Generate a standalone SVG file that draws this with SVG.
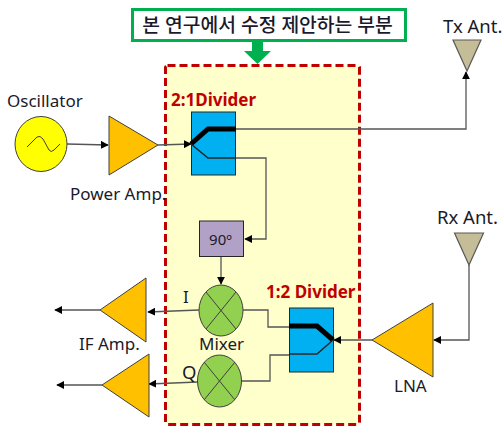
<svg xmlns="http://www.w3.org/2000/svg" width="502" height="427" viewBox="0 0 502 427">
<style>
text{font-family:"Noto Sans","Noto Sans CJK KR",sans-serif;fill:#1a1a2a;font-size:17px}
.red{fill:#c00000;font-weight:bold}
.big{font-size:18.500px}
.amp{fill:#ffc000;stroke:#404040;stroke-width:1}
.ant{fill:#c4bd97;stroke:#595959;stroke-width:1.200}
.div{fill:#00b0f0;stroke:#262626;stroke-width:1}
.mix{fill:#92d050;stroke:#404040;stroke-width:1}
.x{stroke:#404040;stroke-width:1;fill:none}
.c{fill:none;stroke:#555;stroke-width:1.300}
.th{fill:none;stroke:#000;stroke-width:5}
.tn{fill:none;stroke:#262626;stroke-width:1.500}
</style>
<defs>
<marker id="a" viewBox="0 0 10 10" refX="9" refY="5" markerWidth="8" markerHeight="8" markerUnits="userSpaceOnUse" orient="auto"><path d="M0 0L10 5L0 10Z" fill="#000"/></marker>
</defs>
<g id="highlight-region"><rect x="165.500" y="65.500" width="194" height="359" rx="2" fill="#ffffcc" stroke="#c00000" stroke-width="3" stroke-dasharray="8 4"/></g>
<g id="banner"><rect x="132.500" y="9.500" width="273" height="31" fill="#fff" stroke="#00b050" stroke-width="3"/>
<path d="M252 41H263V51H271L257.500 64L244 51H252Z" fill="#00b050"/>
<text x="267.500" y="32" text-anchor="middle" font-weight="500" style="font-size:19.300px">본 연구에서 수정 제안하는 부분</text></g>
<g id="connectors">
<path class="c" d="M67 144L108 145" marker-end="url(#a)"/>
<path class="c" d="M158 145L191 144" marker-end="url(#a)"/>
<path class="c" d="M236 129H466V72" marker-end="url(#a)"/>
<path class="c" d="M236 158H266V239H245" marker-end="url(#a)"/>
<path class="c" d="M221 256V284" marker-end="url(#a)"/>
<path class="c" d="M199 310L148 312" marker-end="url(#a)"/>
<path class="c" d="M198 382L149 384" marker-end="url(#a)"/>
<path class="c" d="M100 310H55" marker-end="url(#a)"/>
<path class="c" d="M102 385H57" marker-end="url(#a)"/>
<path class="c" d="M243 310H268V327H289"/>
<path class="c" d="M241 381H270V355H289"/>
<path class="c" d="M372 340H334" marker-end="url(#a)"/>
<path class="c" d="M469 265V340H434" marker-end="url(#a)"/>
</g>
<g id="oscillator"><ellipse cx="41" cy="144" rx="26" ry="27.500" fill="#ffff00" stroke="#404040"/>
<path d="M27 147L37 137Q40 135 43 139L49 150Q51 153 54 150L60 144" fill="none" stroke="#404040"/>
<text x="7" y="107">Oscillator</text></g>
<g id="power-amp"><path class="amp" d="M109 116V175L158 145Z"/><text x="70" y="200">Power Amp.</text></g>
<g id="divider-2-1"><rect class="div" x="191.500" y="112" width="44" height="63"/>
<path class="th" d="M191 144L208 129H236"/><path class="tn" d="M191 144L208 158H236"/>
<text class="red" x="171" y="106">2:1Divider</text></g>
<g id="tx-ant"><path class="ant" d="M453 40H481L467 71Z"/><text class="big" x="443" y="33">Tx Ant.</text></g>
<g id="rx-ant"><path class="ant" d="M454.500 233H483.500L469 265Z"/><text class="big" x="437" y="224">Rx Ant.</text></g>
<g id="phase-shifter"><rect x="199.500" y="221" width="44" height="35.500" fill="#b2a1c7" stroke="#262626"/><text x="220.500" y="245" text-anchor="middle" style="font-size:15px">90º</text></g>
<g id="mixer-i"><ellipse class="mix" cx="221" cy="310.500" rx="22" ry="25.500"/><path class="x" d="M206 292L236 329M236 292L206 329"/>
<text x="183" y="303">I</text><text x="199" y="350">Mixer</text></g>
<g id="mixer-q"><ellipse class="mix" cx="219.500" cy="381" rx="22" ry="26"/><path class="x" d="M204 362L235 400M235 362L204 400"/>
<text class="big" x="182" y="379">Q</text></g>
<g id="if-amp-i"><path class="amp" d="M146 278V342L100 310Z"/><text x="79" y="350">IF Amp.</text></g>
<g id="if-amp-q"><path class="amp" d="M149 354V417L102 385Z"/></g>
<g id="divider-1-2"><rect class="div" x="289.500" y="308" width="44" height="64"/>
<path class="th" d="M289 326H317L333 340"/><path class="tn" d="M289 354H317L333 340"/>
<text class="red" x="266" y="298">1:2 Divider</text></g>
<g id="lna"><path class="amp" d="M372 340L433 303V377Z"/><text x="394" y="392">LNA</text></g>
</svg>
